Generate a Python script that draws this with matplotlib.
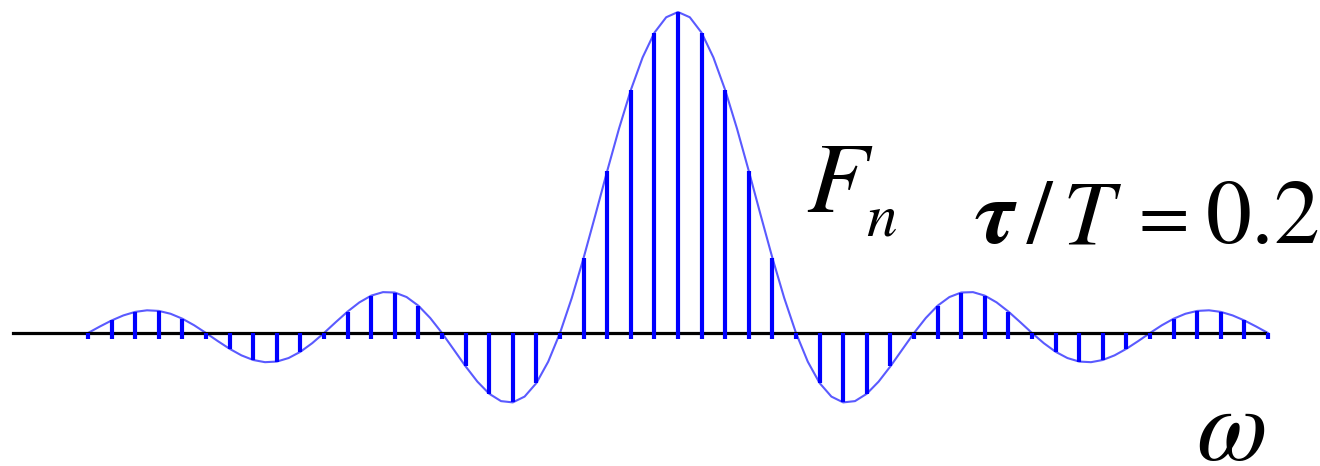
import numpy as np
import matplotlib
matplotlib.use("Agg")
import matplotlib.pyplot as plt

plt.rcParams["mathtext.fontset"] = "stix"

# Line spectrum of a periodic pulse train, tau/T = 0.2
# Stem heights F_n for n = 0..25 (normalised to F_0), right half
fn_half = [1.0, 0.9355, 0.7568, 0.5046, 0.2339, 0.0,
           -0.1559, -0.2162, -0.1892, -0.1039, 0.0,
           0.0850, 0.1261, 0.1164, 0.0668, 0.0,
           -0.0585, -0.0890, -0.0841, -0.0492, 0.0,
           0.0445, 0.0688, 0.0658, 0.0390, 0.0]
# Envelope between the lines, at n = 0.5, 1.5, ..., 24.5
env_mid = [0.9836, 0.8584, 0.6366, 0.3679, 0.1093,
           -0.0894, -0.1981, -0.2122, -0.1515, -0.0518,
           0.0468, 0.1120, 0.1273, 0.0954, 0.0339,
           -0.0317, -0.0780, -0.0909, -0.0696, -0.0252,
           0.0240, 0.0599, 0.0707, 0.0548, 0.0201]

# Mirror to get n = -25..25
n_pos = np.arange(len(fn_half))
n = np.concatenate([-n_pos[:0:-1], n_pos])
fn = np.concatenate([fn_half[:0:-1], fn_half])

# Envelope points on a half-step grid (line tops + midpoints)
env_right_x = []
env_right_y = []
for k in range(len(env_mid)):
    env_right_x += [k, k + 0.5]
    env_right_y += [fn_half[k], env_mid[k]]
env_right_x.append(len(env_mid))
env_right_y.append(fn_half[-1])
env_right_x = np.array(env_right_x)
env_right_y = np.array(env_right_y)
env_x = np.concatenate([-env_right_x[:0:-1], env_right_x])
env_y = np.concatenate([env_right_y[:0:-1], env_right_y])

W, H = 1320, 466
fig = plt.figure(figsize=(W / 100, H / 100), dpi=100)
ax = fig.add_axes([0, 0, 1, 1])

# pixel layout: centre line at x=678, 23.6 px per line, axis at y=333, peak 321 px high
x0, dx = 678, 23.6
y0, dy = 333, 321
ax.set_xlim(-x0 / dx, (W - x0) / dx)
ax.set_ylim(-(H - y0) / dy, y0 / dy)
ax.axis("off")

# horizontal axis
ax.plot([(13 - x0) / dx, (1265 - x0) / dx], [0, 0], color="black", lw=2.3, zorder=3)

# envelope
ax.plot(env_x, env_y, color="#5a5aff", lw=1.5, zorder=2)

# spectral lines (with the little stub under the axis)
lower = np.minimum(fn, -0.02)
upper = np.maximum(fn, 0)
ax.vlines(n, lower, upper, color="#0000ff", lw=3.0, zorder=4)

def px(x, y):
    return x / W, 1 - y / H

fig.text(*px(806, 212), r"$F$", fontsize=73, va="baseline")
fig.text(*px(866, 235), r"$n$", fontsize=44, va="baseline")
fig.text(*px(974, 243), r"$\boldsymbol{\tau}$", fontsize=66, va="baseline")
fig.text(*px(1026, 243), r"$/$", fontsize=66, va="baseline")
fig.text(*px(1062, 243), r"$T$", fontsize=66, va="baseline")
fig.text(*px(1128, 238), r"$=$", fontsize=53, va="baseline")
fig.text(*px(1205, 243), r"$0.2$", fontsize=66, va="baseline")
fig.text(*px(1196, 460), r"$\omega$", fontsize=74, va="baseline")

fig.savefig("out.png", dpi=100)
